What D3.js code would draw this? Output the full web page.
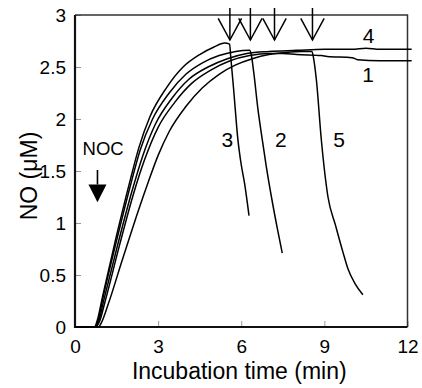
<!DOCTYPE html>
<html>
<head>
<meta charset="utf-8">
<script src="https://cdn.jsdelivr.net/npm/d3@7"></script>
<style>
  body { margin: 0; background: #fff; }
  svg { display: block; font-family: "Liberation Sans", Arial, sans-serif; }
</style>
</head>
<body>
<div id="chart"></div>
<script>
// NO concentration (uM) vs incubation time (min)
const curve1 = [[0,0],[0.75,0],[0.88,0.05],[1.1,0.26],[1.6,0.78],[2.1,1.27],[2.5,1.6],[3.0,1.92],[3.6,2.16],[4.2,2.34],[4.9,2.47],[5.6,2.56],[6.3,2.61],[7.0,2.63],[7.5,2.63],[8.0,2.62],[8.9,2.61],[9.1,2.6],[10.0,2.59],[10.2,2.57],[11.0,2.56],[12.15,2.56]];
const curve2 = [[0,0],[0.7,0],[0.82,0.05],[1.0,0.27],[1.5,0.83],[2.0,1.36],[2.35,1.7],[2.8,2.0],[3.4,2.25],[4.0,2.43],[4.6,2.54],[5.2,2.61],[5.8,2.65],[6.3,2.66],[6.36,2.62],[6.45,2.45],[6.6,2.1],[6.76,1.8],[6.9,1.55],[7.09,1.25],[7.3,0.95],[7.48,0.71]];
const curve3 = [[0,0],[0.7,0],[0.8,0.06],[1.0,0.3],[1.5,0.88],[2.0,1.42],[2.3,1.72],[2.7,2.02],[3.3,2.3],[3.9,2.5],[4.5,2.62],[5.0,2.69],[5.4,2.73],[5.58,2.72],[5.62,2.6],[5.72,2.3],[5.88,1.8],[6.0,1.56],[6.12,1.38],[6.28,1.07]];
const curve4 = [[0,0],[0.72,0],[0.85,0.05],[1.05,0.27],[1.55,0.8],[2.05,1.3],[2.45,1.65],[2.9,1.95],[3.5,2.2],[4.1,2.38],[4.8,2.5],[5.5,2.58],[6.2,2.63],[7.0,2.65],[8.0,2.66],[9.0,2.67],[10.0,2.67],[10.5,2.68],[11.0,2.67],[12.15,2.67]];
const curve5 = [[0,0],[0.85,0],[0.95,0.04],[1.2,0.22],[1.7,0.64],[2.2,1.05],[2.6,1.36],[3.0,1.65],[3.4,1.88],[4.0,2.12],[4.6,2.3],[5.2,2.43],[5.8,2.52],[6.4,2.58],[7.0,2.62],[7.6,2.64],[8.2,2.65],[8.55,2.65],[8.6,2.6],[8.71,2.38],[8.89,1.8],[9.13,1.25],[9.4,0.98],[9.67,0.72],[9.85,0.56],[10.1,0.42],[10.39,0.31]];
const curves = [curve1, curve2, curve3, curve4, curve5];

// curve labels: [label, time, value]
const curveLabels = [["1", 10.58, 2.36], ["4", 10.6, 2.73], ["3", 5.5, 1.73], ["2", 7.43, 1.73], ["5", 9.53, 1.73]];
// times of the additions (open arrows at top)
const arrowTimes = [5.59, 6.33, 7.2, 8.57];
const nocTime = 0.8;

const xTicks = [0, 3, 6, 9, 12];
const yTicks = [0, 0.5, 1, 1.5, 2, 2.5, 3];

const width = 422, height = 388;
const margin = {top: 15, right: 14.5, bottom: 61, left: 75};

const svg = d3.select("#chart").append("svg")
  .attr("width", width).attr("height", height);

const x = d3.scaleLinear().domain([0, 12]).range([margin.left, width - margin.right]);
const y = d3.scaleLinear().domain([0, 3]).range([height - margin.bottom, margin.top]);

// inner ticks
svg.append("g")
  .attr("transform", "translate(0," + y(0) + ")")
  .call(d3.axisBottom(x).tickValues(xTicks).tickSizeInner(-6).tickSizeOuter(0).tickPadding(13))
  .call(g => g.select(".domain").remove())
  .call(g => g.selectAll(".tick line").attr("stroke", "#999"))
  .call(g => g.selectAll(".tick text").attr("font-size", 19).attr("fill", "#000").attr("font-family", "Liberation Sans, Arial, sans-serif"));

svg.append("g")
  .attr("transform", "translate(" + x(0) + ",0)")
  .call(d3.axisLeft(y).tickValues(yTicks).tickFormat(d => d).tickSizeInner(-6).tickSizeOuter(0).tickPadding(9))
  .call(g => g.select(".domain").remove())
  .call(g => g.selectAll(".tick line").attr("stroke", "#999"))
  .call(g => g.selectAll(".tick text").attr("font-size", 19).attr("fill", "#000").attr("font-family", "Liberation Sans, Arial, sans-serif"));

// frame
svg.append("path")
  .attr("d", "M" + x(0) + "," + y(3) + "H" + x(12) + "V" + y(0))
  .attr("fill", "none").attr("stroke", "#333").attr("stroke-width", 1.5);
svg.append("path")
  .attr("d", "M" + x(0) + "," + y(3) + "V" + y(0) + "H" + x(12))
  .attr("fill", "none").attr("stroke", "#111").attr("stroke-width", 2.2);

// curves
const line = d3.line()
  .x(d => x(d[0]))
  .y(d => y(d[1]))
  .curve(d3.curveMonotoneX);

svg.append("g").selectAll("path")
  .data(curves)
  .enter().append("path")
  .attr("d", line)
  .attr("fill", "none")
  .attr("stroke", "#000")
  .attr("stroke-width", 1.5);

// curve numbers
svg.append("g").selectAll("text")
  .data(curveLabels)
  .enter().append("text")
  .attr("x", d => x(d[1]))
  .attr("y", d => y(d[2]))
  .attr("text-anchor", "middle")
  .attr("font-size", 21)
  .text(d => d[0]);

// open arrows marking additions
const arrows = svg.append("g")
  .attr("fill", "none").attr("stroke", "#000").attr("stroke-width", 1.5);
arrowTimes.forEach(t => {
  const ax = x(t), tip = margin.top + 25;
  arrows.append("path").attr("d", "M" + ax + "," + (margin.top - 7) + "V" + tip);
  arrows.append("path").attr("d", "M" + (ax - 11.7) + "," + (tip - 21.7) + "L" + ax + "," + tip + "L" + (ax + 11.7) + "," + (tip - 21.7));
});

// NOC label and filled arrow
svg.append("text")
  .attr("x", x(nocTime) + 6)
  .attr("y", y(1.65))
  .attr("text-anchor", "middle")
  .attr("font-size", 18.5)
  .text("NOC");
const nx = x(nocTime) + 0.3;
svg.append("line")
  .attr("x1", nx).attr("x2", nx)
  .attr("y1", y(1.5) - 1).attr("y2", y(1.37))
  .attr("stroke", "#000").attr("stroke-width", 1.6);
svg.append("path")
  .attr("d", "M" + (nx - 9) + "," + y(1.37) + "H" + (nx + 9) + "L" + nx + "," + y(1.2) + "Z")
  .attr("fill", "#000");

// axis titles
svg.append("text")
  .attr("x", (x(0) + x(12)) / 2 - 2)
  .attr("y", 379)
  .attr("text-anchor", "middle")
  .attr("font-size", 23)
  .text("Incubation time (min)");

svg.append("text")
  .attr("transform", "translate(37," + 176 + ") rotate(-90)")
  .attr("text-anchor", "middle")
  .attr("font-size", 23)
  .text("NO (\u03bcM)");
</script>
</body>
</html>
